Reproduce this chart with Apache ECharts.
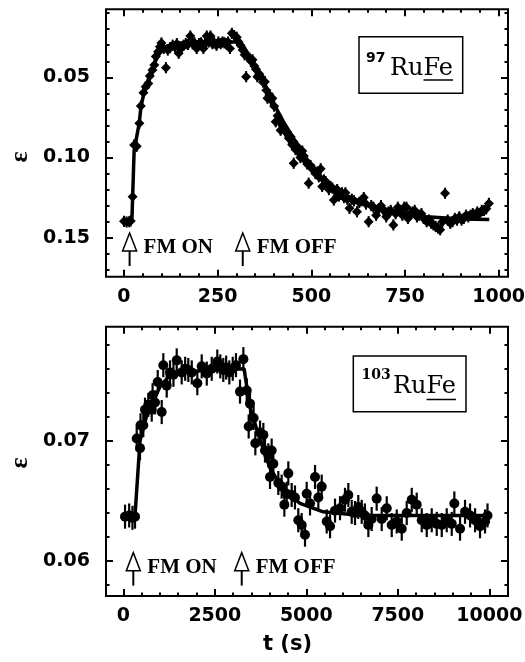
<!DOCTYPE html>
<html>
<head>
<meta charset="utf-8">
<script src="https://cdn.jsdelivr.net/npm/echarts@6/dist/echarts.min.js"></script>
<style>html,body{margin:0;padding:0;background:#fff;}#c{width:525px;height:662px;}</style>
</head>
<body>
<div id="c"></div>
<script>
// ---------- Top panel (97RuFe) ----------
const tTop = [0,7,14,18,23,27,34,41,45,52,58,65,69,76,81,85,91,96,100,106,112,117,123,130,136,141,146,152,159,165,171,177,183,188,194,200,206,212,216,221,226,231,236,241,247,252,258,263,268,273,278,283,288,294,301,306,311,317,322,326,330,335,339,343,348,352,356,361,366,371,376,380,383,388,392,396,401,405,410,414,418,423,427,431,436,440,445,449,453,458,462,467,471,476,480,485,489,493,498,502,507,511,516,520,525,529,534,538,543,547,551,556,560,565,569,574,578,582,587,591,596,602,608,614,622,628,634,640,646,653,660,666,673,680,686,693,700,706,712,719,725,731,737,743,748,754,758,764,770,776,782,788,794,800,808,814,820,826,832,838,844,850,857,864,871,877,883,889,895,901,907,913,919,925,931,937,943,949,955,961,967,974];
const epsTop = [0.1398,0.1402,0.1400,0.1395,0.1244,0.0922,0.0930,0.0787,0.0679,0.0596,0.0559,0.0538,0.0492,0.0455,0.0423,0.0370,0.0340,0.0310,0.0286,0.0320,0.0440,0.0330,0.0315,0.0300,0.0310,0.0290,0.0350,0.0320,0.0300,0.0290,0.0295,0.0243,0.0290,0.0285,0.0320,0.0290,0.0285,0.0320,0.0290,0.0243,0.0280,0.0243,0.0290,0.0285,0.0300,0.0280,0.0290,0.0280,0.0285,0.0290,0.0280,0.0320,0.0226,0.0240,0.0250,0.0280,0.0300,0.0330,0.0360,0.0496,0.0370,0.0380,0.0400,0.0390,0.0430,0.0450,0.0496,0.0480,0.0500,0.0530,0.0527,0.0580,0.0630,0.0610,0.0640,0.0630,0.0680,0.0777,0.0740,0.0770,0.0830,0.0800,0.0820,0.0840,0.0850,0.0880,0.0870,0.0920,0.1036,0.0950,0.0930,0.0970,0.1000,0.0960,0.0990,0.1020,0.1040,0.1160,0.1050,0.1070,0.1078,0.1100,0.1090,0.1120,0.1070,0.1180,0.1140,0.1150,0.1170,0.1200,0.1180,0.1190,0.1265,0.1210,0.1200,0.1240,0.1230,0.1220,0.1250,0.1220,0.1260,0.1317,0.1260,0.1270,0.1338,0.1280,0.1270,0.1250,0.1290,0.1400,0.1300,0.1310,0.1360,0.1320,0.1300,0.1330,0.1370,0.1340,0.1330,0.1420,0.1350,0.1310,0.1330,0.1360,0.1310,0.1310,0.1380,0.1350,0.1340,0.1330,0.1370,0.1360,0.1350,0.1380,0.1400,0.1390,0.1410,0.1420,0.1430,0.1440,0.1450,0.1400,0.1223,0.1390,0.1410,0.1400,0.1380,0.1390,0.1370,0.1390,0.1380,0.1360,0.1370,0.1360,0.1350,0.1360,0.1340,0.1350,0.1330,0.1330,0.1320,0.1286];
const errTop = 0.0035;
const fitTopT = [0,21,27,34,41,45,52,60,70,80,90,100,115,140,180,250,308,320,335,350,375,400,425,450,488,525,576,656,730,808,900,975];
const fitTopE = [0.1400,0.1400,0.0960,0.0870,0.0780,0.0690,0.0610,0.0545,0.0480,0.0420,0.0370,0.0335,0.0305,0.0288,0.0282,0.0280,0.0280,0.0310,0.0370,0.0430,0.0540,0.0665,0.0775,0.0870,0.1010,0.1120,0.1220,0.1296,0.1340,0.1370,0.1383,0.1386];
const xMajorTop = [0,250,500,750,1000];
const xMinorTop = [50,100,150,200,300,350,400,450,550,600,650,700,800,850,900,950];
const yMajorTop = [0.05,0.10,0.15];
const yMinorTop = [0.01,0.02,0.03,0.04,0.06,0.07,0.08,0.09,0.11,0.12,0.13,0.14,0.16,0.17];
const arrowTopT = [15,317];
const arrowTopY = [0.1564,0.1564];

// ---------- Bottom panel (103RuFe) ----------
const tBot = [47,160,250,320,366,456,470,546,593,683,776,800,866,940,1049,1093,1186,1276,1370,1459,1595,1690,1776,1870,2022,2142,2280,2415,2568,2650,2732,2810,2896,2990,3078,3188,3280,3372,3425,3462,3560,3607,3735,3826,3871,3962,4008,4053,4099,4235,4326,4400,4463,4508,4600,4690,4781,4873,4964,5010,5101,5238,5328,5420,5557,5648,5784,5920,6057,6148,6240,6330,6420,6513,6600,6695,6785,6922,7060,7197,7333,7470,7607,7743,7880,8016,8153,8290,8426,8563,8700,8836,8973,9044,9200,9336,9473,9610,9746,9883,9950];
const epsBot = [0.0637,0.0638,0.0636,0.0637,0.0702,0.0694,0.0713,0.0713,0.0726,0.0730,0.0726,0.0738,0.0732,0.0749,0.0724,0.0763,0.0746,0.0757,0.0755,0.0767,0.0757,0.0760,0.0759,0.0757,0.0748,0.0762,0.0756,0.0760,0.0766,0.0762,0.0759,0.0761,0.0757,0.0760,0.0763,0.0741,0.0768,0.0742,0.0712,0.0731,0.0719,0.0698,0.0707,0.0705,0.0692,0.0688,0.0670,0.0692,0.0681,0.0665,0.0662,0.0647,0.0656,0.0673,0.0655,0.0653,0.0634,0.0630,0.0622,0.0656,0.0648,0.0670,0.0653,0.0662,0.0633,0.0629,0.0642,0.0644,0.0651,0.0655,0.0641,0.0640,0.0645,0.0641,0.0638,0.0630,0.0635,0.0652,0.0635,0.0644,0.0630,0.0633,0.0627,0.0640,0.0651,0.0647,0.0634,0.0630,0.0634,0.0631,0.0630,0.0634,0.0631,0.0648,0.0627,0.0641,0.0638,0.0634,0.0629,0.0633,0.0638];
const errBot = 0.0010;
const fitBotT = [0,320,456,640,1000,1280,1900,3300,3460,3735,4000,4370,4830,5460,6500,9950];
const fitBotE = [0.0638,0.0638,0.0700,0.0721,0.0745,0.0755,0.0758,0.0760,0.0728,0.0701,0.0678,0.0659,0.0648,0.0641,0.0638,0.0638];
const xMajorBot = [0,2500,5000,7500,10000];
const xMinorBot = [500,1000,1500,2000,3000,3500,4000,4500,5500,6000,6500,7000,8000,8500,9000,9500];
const yMajorBot = [0.06,0.07];
const yMinorBot = [0.058,0.062,0.064,0.066,0.068,0.072,0.074,0.076,0.078];
const arrowBotT = [273,3235];
const arrowBotY = [0.05946,0.05946];

const arrowLabels = ['FM ON','FM OFF'];

// ---------- helpers ----------
const LABEL_FONT = {color:'#000', fontFamily:'DejaVu Sans', fontWeight:'bold', fontSize:19};
function axis(kind, gridIndex, min, max, position, vals, len, showLabel, opts) {
  opts = opts || {};
  return Object.assign({
    type:'value', gridIndex, min, max, position,
    axisLine:{show:false, onZero:false},
    splitLine:{show:false},
    minorTick:{show:false},
    axisTick:{show:true, inside:true, length:len, customValues:vals, lineStyle:{color:'#000', width:2}},
    axisLabel:Object.assign({show:showLabel, customValues:vals, margin: kind==='x'?11:16,
      formatter: v => String(v)}, LABEL_FONT, opts.label||{})
  }, opts.extra||{});
}
const fmt2 = v => v.toFixed(2);

const xAxes = [
  axis('x',0,-48,1025,'bottom',xMajorTop,7,true),
  axis('x',0,-48,1025,'bottom',xMinorTop,3.5,false),
  axis('x',0,-48,1025,'top',xMajorTop,7,false),
  axis('x',0,-48,1025,'top',xMinorTop,3.5,false),
  axis('x',1,-473,10510,'bottom',xMajorBot,7,true),
  axis('x',1,-473,10510,'bottom',xMinorBot,3.5,false),
  axis('x',1,-473,10510,'top',xMajorBot,7,false),
  axis('x',1,-473,10510,'top',xMinorBot,3.5,false)
];
const yAxes = [
  axis('y',0,0.0076,0.1743,'left',yMajorTop,7,true,{label:{formatter:fmt2},extra:{inverse:true}}),
  axis('y',0,0.0076,0.1743,'left',yMinorTop,3.5,false,{extra:{inverse:true}}),
  axis('y',0,0.0076,0.1743,'right',yMajorTop,7,false,{extra:{inverse:true}}),
  axis('y',0,0.0076,0.1743,'right',yMinorTop,3.5,false,{extra:{inverse:true}}),
  axis('y',1,0.0571,0.0795,'left',yMajorBot,7,true,{label:{formatter:fmt2}}),
  axis('y',1,0.0571,0.0795,'left',yMinorBot,3.5,false),
  axis('y',1,0.0571,0.0795,'right',yMajorBot,7,false),
  axis('y',1,0.0571,0.0795,'right',yMinorBot,3.5,false)
];

function pairs(a,b){ return a.map((v,i)=>[v,b[i]]); }

function errSeries(ax, t, e, err, w) {
  return {
    type:'custom', xAxisIndex:ax, yAxisIndex:ax, silent:true, z:2,
    data: pairs(t,e),
    renderItem:(p,api)=>{
      const x=api.value(0), y=api.value(1);
      const a=api.coord([x,y-err]), b=api.coord([x,y+err]);
      return {type:'line', shape:{x1:a[0],y1:a[1],x2:b[0],y2:b[1]}, style:{stroke:'#000', lineWidth:w}};
    }
  };
}
function ptSeries(ax, t, e, sym, size) {
  return {type:'scatter', xAxisIndex:ax, yAxisIndex:ax, symbol:sym, symbolSize:size, silent:true, z:3,
    itemStyle:{color:'#000', opacity:1}, data:pairs(t,e)};
}
function fitSeries(ax, t, e) {
  return {type:'line', xAxisIndex:ax, yAxisIndex:ax, showSymbol:false, symbol:'none', silent:true, z:4,
    lineStyle:{color:'#000', width:3.5}, data:pairs(t,e)};
}
function arrowSeries(ax, t, y) {
  return {
    type:'custom', xAxisIndex:ax, yAxisIndex:ax, silent:true, z:5, clip:false,
    data: pairs(t,y),
    renderItem:(p,api)=>{
      const c = api.coord([api.value(0), api.value(1)]);
      const x=c[0], yy=c[1];
      return {type:'group', children:[
        {type:'polygon', shape:{points:[[x,yy-15],[x-7,yy+3],[x+7,yy+3]]}, style:{fill:'#fff', stroke:'#000', lineWidth:1.5}},
        {type:'line', shape:{x1:x,y1:yy+3,x2:x,y2:yy+18}, style:{stroke:'#000', lineWidth:2}},
        {type:'text', style:{x:x+14, y:yy, text:arrowLabels[p.dataIndex], font:'bold 21px "Liberation Serif"', fill:'#000', verticalAlign:'middle', align:'left'}}
      ]};
    }
  };
}

// measure text widths for underline under "Fe"
const mctx = document.createElement('canvas').getContext('2d');
const BOX_FONT = '24px "DejaVu Serif"';
mctx.font = BOX_FONT;
const wRu = mctx.measureText('Ru').width, wRuFe = mctx.measureText('RuFe').width;

function box(x, y, w, h, sup, supFont, supX, supY, mainX, mainY, ulY) {
  return [
    {type:'rect', shape:{x, y, width:w, height:h}, style:{fill:'#fff', stroke:'#000', lineWidth:1.5}, z:10},
    {type:'text', style:{x:supX, y:supY, text:sup, font:supFont, fill:'#000', verticalAlign:'middle', align:'left'}, z:11},
    {type:'text', style:{x:mainX, y:mainY, text:'RuFe', font:BOX_FONT, fill:'#000', verticalAlign:'middle', align:'left'}, z:11},
    {type:'line', shape:{x1:mainX+wRu, y1:ulY, x2:mainX+wRuFe, y2:ulY}, style:{stroke:'#000', lineWidth:1.5}, z:11}
  ];
}

const graphics = [].concat(
  box(359, 36.7, 103.7, 56.6, '97', 'bold 14px "DejaVu Sans"', 366, 58, 390, 69, 80),
  box(353.3, 356, 112.7, 55.7, '103', 'bold 14px "DejaVu Serif"', 361.5, 375.5, 393, 387, 399.5),
  [
    {type:'text', rotation:Math.PI/2, x:20, y:157, style:{x:0, y:0, text:'ε', font:'bold 26px "Liberation Serif"', fill:'#000', align:'center', verticalAlign:'middle'}},
    {type:'text', rotation:Math.PI/2, x:20, y:463, style:{x:0, y:0, text:'ε', font:'bold 26px "Liberation Serif"', fill:'#000', align:'center', verticalAlign:'middle'}},
    {type:'text', x:287.5, y:645, style:{x:0, y:0, text:'t (s)', font:'bold 21px "DejaVu Sans"', fill:'#000', align:'center', verticalAlign:'middle'}}
  ]
);

const chart = echarts.init(document.getElementById('c'), null, {renderer:'canvas'});
chart.setOption({
  animation:false,
  backgroundColor:'#fff',
  grid:[
    {left:106, top:9.3, width:402, height:267.4, show:true, borderColor:'#000', borderWidth:2, backgroundColor:'transparent', containLabel:false, outerBoundsMode:'none'},
    {left:106, top:326.7, width:402, height:269.3, show:true, borderColor:'#000', borderWidth:2, backgroundColor:'transparent', containLabel:false, outerBoundsMode:'none'}
  ],
  xAxis:xAxes,
  yAxis:yAxes,
  series:[
    errSeries(0, tTop, epsTop, errTop, 2),
    ptSeries(0, tTop, epsTop, 'diamond', 10),
    fitSeries(0, fitTopT, fitTopE),
    arrowSeries(0, arrowTopT, arrowTopY),
    errSeries(4, tBot, epsBot, errBot, 2.2),
    ptSeries(4, tBot, epsBot, 'circle', 10),
    fitSeries(4, fitBotT, fitBotE),
    arrowSeries(4, arrowBotT, arrowBotY)
  ],
  graphic:graphics
});
</script>
</body>
</html>
